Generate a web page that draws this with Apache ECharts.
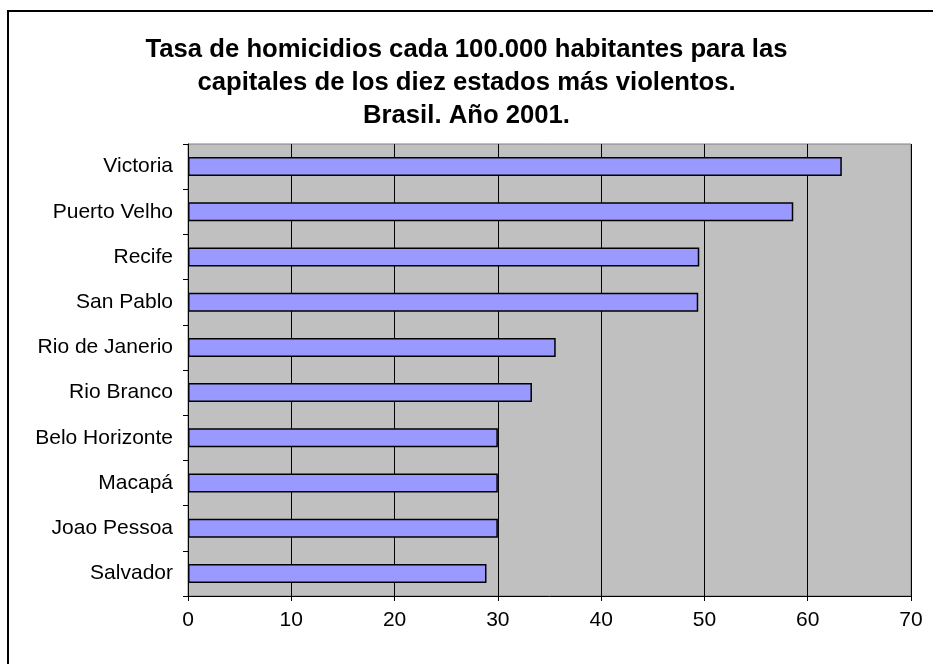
<!DOCTYPE html>
<html>
<head>
<meta charset="utf-8">
<script src="https://cdn.jsdelivr.net/npm/echarts@6/dist/echarts.min.js"></script>
<style>html,body{margin:0;padding:0;background:#fff;}#c{width:933px;height:664px;}</style>
</head>
<body>
<div id="c"></div>
<script>
const titleLines = ["Tasa de homicidios cada 100.000 habitantes para las", "capitales de los diez estados más violentos.", "Brasil. Año 2001."];
const cities = ["Victoria", "Puerto Velho", "Recife", "San Pablo", "Rio de Janerio", "Rio Branco", "Belo Horizonte", "Macapá", "Joao Pessoa", "Salvador"];
const rates = [63.3, 58.6, 49.5, 49.4, 35.6, 33.3, 30.0, 30.0, 30.0, 28.9];
const xTicks = { min: 0, max: 70, interval: 10 };

const font = "'Liberation Sans', Arial, sans-serif";
const chart = echarts.init(document.getElementById('c'), null, { renderer: 'canvas' });
chart.setOption({
  animation: false,
  backgroundColor: '#ffffff',
  title: {
    text: titleLines.join('\n'),
    left: 'center',
    top: 28,
    textStyle: { fontFamily: font, fontSize: 25.7, fontWeight: 'bold', color: '#000', lineHeight: 33 }
  },
  graphic: [{
    type: 'rect',
    shape: { x: 8, y: 11, width: 1000, height: 1000 },
    style: { fill: 'none', stroke: '#000', lineWidth: 2 },
    z: 100
  }],
  grid: {
    left: 188, right: 22, top: 144, bottom: 68,
    show: true, backgroundColor: '#C0C0C0', borderColor: '#808080', borderWidth: 1
  },
  xAxis: {
    type: 'value', min: xTicks.min, max: xTicks.max, interval: xTicks.interval,
    axisLine: { show: true, lineStyle: { color: '#000', width: 1 } },
    axisTick: { show: true, length: 5, lineStyle: { color: '#000' } },
    axisLabel: { fontFamily: font, fontSize: 21, color: '#000', margin: 14 },
    splitLine: { show: true, lineStyle: { color: '#000', width: 1 } }
  },
  yAxis: {
    type: 'category', data: cities, inverse: true,
    axisLine: { show: true, lineStyle: { color: '#000', width: 1 } },
    axisTick: { show: true, length: 5, lineStyle: { color: '#000' } },
    axisLabel: { fontFamily: font, fontSize: 21, color: '#000', margin: 15 },
    splitLine: { show: false }
  },
  series: [{
    type: 'bar', data: rates, barWidth: 19,
    itemStyle: { color: '#9999FF', borderColor: '#000', borderWidth: 1.5 }
  }]
});
</script>
</body>
</html>
